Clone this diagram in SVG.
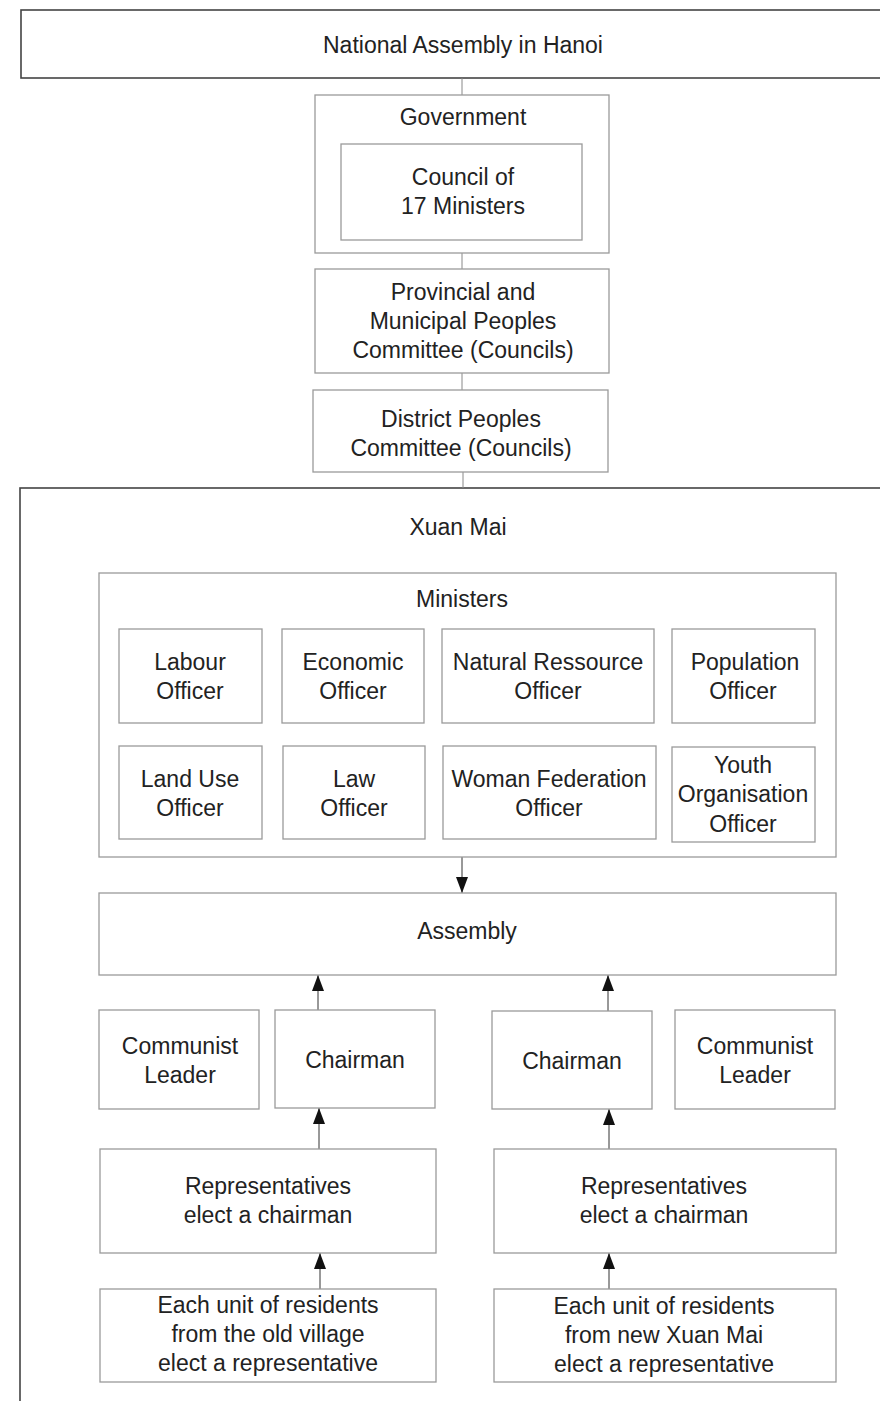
<svg xmlns="http://www.w3.org/2000/svg" width="880" height="1401" viewBox="0 0 880 1401">
<style>
text{font-family:"Liberation Sans",Arial,sans-serif;font-size:23px;fill:#222;text-anchor:middle}
.b{fill:#fff;stroke:#9a9a9a;stroke-width:1.3}
.o{fill:#fff;stroke:#444;stroke-width:1.6}
.c{stroke:#888;stroke-width:1;fill:none}
.a{stroke:#333;stroke-width:1;fill:none}
</style>
<defs>
<marker id="ah" viewBox="0 0 16 12" refX="16" refY="6" markerWidth="16" markerHeight="12" markerUnits="userSpaceOnUse" orient="auto">
<path d="M0,0 L16,6 L0,12 Z" fill="#111"/>
</marker>
</defs>
<rect width="880" height="1401" fill="#fff"/>
<g id="national"><rect class="o" x="21" y="10" width="870" height="68"/><text x="463" y="53">National Assembly in Hanoi</text></g>
<g id="xuanmai"><rect class="o" x="20" y="488" width="870" height="940"/><text x="458" y="535">Xuan Mai</text></g>
<g id="connectors">
<line class="c" x1="462" y1="78" x2="462" y2="95"/>
<line class="c" x1="462" y1="253" x2="462" y2="269"/>
<line class="c" x1="462" y1="373" x2="462" y2="390"/>
<line class="c" x1="463" y1="472" x2="463" y2="488"/>
<line class="a" x1="462" y1="857" x2="462" y2="893" marker-end="url(#ah)"/>
<line class="a" x1="318" y1="1010" x2="318" y2="975" marker-end="url(#ah)"/>
<line class="a" x1="608" y1="1011" x2="608" y2="975" marker-end="url(#ah)"/>
<line class="a" x1="319" y1="1149" x2="319" y2="1108" marker-end="url(#ah)"/>
<line class="a" x1="609" y1="1149" x2="609" y2="1109" marker-end="url(#ah)"/>
<line class="a" x1="320" y1="1289" x2="320" y2="1253" marker-end="url(#ah)"/>
<line class="a" x1="609" y1="1289" x2="609" y2="1253" marker-end="url(#ah)"/>
</g>
<g id="government"><rect class="b" x="315" y="95" width="294" height="158"/><text x="463" y="125">Government</text></g>
<g id="council"><rect class="b" x="341" y="144" width="241" height="96"/><text x="463" y="185">Council of</text><text x="463" y="214">17 Ministers</text></g>
<g id="provincial"><rect class="b" x="315" y="269" width="294" height="104"/><text x="463" y="300">Provincial and</text><text x="463" y="329">Municipal Peoples</text><text x="463" y="358">Committee (Councils)</text></g>
<g id="district"><rect class="b" x="313" y="390" width="295" height="82"/><text x="461" y="427">District Peoples</text><text x="461" y="456">Committee (Councils)</text></g>
<g id="ministers"><rect class="b" x="99" y="573" width="737" height="284"/><text x="462" y="607">Ministers</text></g>
<g id="labour"><rect class="b" x="119" y="629" width="143" height="94"/><text x="190" y="670">Labour</text><text x="190" y="699">Officer</text></g>
<g id="economic"><rect class="b" x="282" y="629" width="142" height="94"/><text x="353" y="670">Economic</text><text x="353" y="699">Officer</text></g>
<g id="natural"><rect class="b" x="442" y="629" width="212" height="94"/><text x="548" y="670">Natural Ressource</text><text x="548" y="699">Officer</text></g>
<g id="population"><rect class="b" x="672" y="629" width="143" height="94"/><text x="745" y="670">Population</text><text x="743" y="699">Officer</text></g>
<g id="landuse"><rect class="b" x="119" y="746" width="143" height="93"/><text x="190" y="787">Land Use</text><text x="190" y="816">Officer</text></g>
<g id="law"><rect class="b" x="283" y="746" width="142" height="93"/><text x="354" y="787">Law</text><text x="354" y="816">Officer</text></g>
<g id="woman"><rect class="b" x="443" y="746" width="213" height="93"/><text x="549" y="787">Woman Federation</text><text x="549" y="816">Officer</text></g>
<g id="youth"><rect class="b" x="672" y="747" width="143" height="95"/><text x="743" y="773">Youth</text><text x="743" y="802">Organisation</text><text x="743" y="832">Officer</text></g>
<g id="assembly"><rect class="b" x="99" y="893" width="737" height="82"/><text x="467" y="939">Assembly</text></g>
<g id="communist-left"><rect class="b" x="99" y="1010" width="160" height="99"/><text x="180" y="1054">Communist</text><text x="180" y="1083">Leader</text></g>
<g id="chairman-left"><rect class="b" x="275" y="1010" width="160" height="98"/><text x="355" y="1068">Chairman</text></g>
<g id="chairman-right"><rect class="b" x="492" y="1011" width="160" height="98"/><text x="572" y="1069">Chairman</text></g>
<g id="communist-right"><rect class="b" x="675" y="1010" width="160" height="99"/><text x="755" y="1054">Communist</text><text x="755" y="1083">Leader</text></g>
<g id="reps-left"><rect class="b" x="100" y="1149" width="336" height="104"/><text x="268" y="1194">Representatives</text><text x="268" y="1223">elect a chairman</text></g>
<g id="reps-right"><rect class="b" x="494" y="1149" width="342" height="104"/><text x="664" y="1194">Representatives</text><text x="664" y="1223">elect a chairman</text></g>
<g id="units-left"><rect class="b" x="100" y="1289" width="336" height="93"/><text x="268" y="1313">Each unit of residents</text><text x="268" y="1342">from the old village</text><text x="268" y="1371">elect a representative</text></g>
<g id="units-right"><rect class="b" x="494" y="1289" width="342" height="93"/><text x="664" y="1314">Each unit of residents</text><text x="664" y="1343">from new Xuan Mai</text><text x="664" y="1372">elect a representative</text></g>
</svg>
